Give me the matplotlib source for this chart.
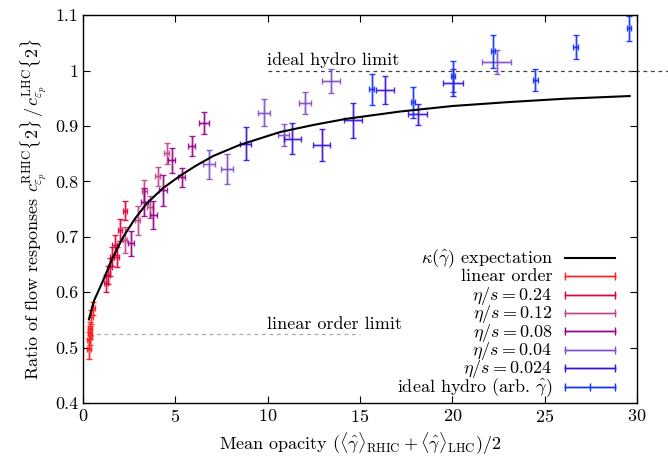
import matplotlib
matplotlib.use("Agg")
import matplotlib.pyplot as plt
from matplotlib.ticker import FormatStrFormatter

plt.rcParams['font.family'] = 'serif'
plt.rcParams['font.serif'] = ['cmr10', 'DejaVu Serif']
plt.rcParams['mathtext.fontset'] = 'cm'
plt.rcParams['axes.formatter.use_mathtext'] = True
plt.rcParams['font.size'] = 13

# kappa(gamma) expectation
kappa_x = [0.32, 0.6, 1.1, 1.6, 2.18, 2.8, 3.45, 4.3, 5.25, 6.1, 7.06, 8.5,
           10.67, 12.5, 14.28, 17.16, 20, 23, 26, 29.6]
kappa_y = [0.551, 0.585, 0.622, 0.662, 0.70, 0.732, 0.76, 0.787, 0.81, 0.828,
           0.846, 0.866, 0.889, 0.902, 0.913, 0.926, 0.936, 0.943, 0.949, 0.954]

# linear order
lin_x = [0.30, 0.33, 0.36, 0.38, 0.40, 0.45, 0.54]
lin_y = [0.513, 0.497, 0.535, 0.527, 0.519, 0.555, 0.571]
lin_xe = [0.1, 0.1, 0.1, 0.1, 0.1, 0.1, 0.1]
lin_ye = [0.015, 0.018, 0.012, 0.012, 0.014, 0.012, 0.012]

# eta/s = 0.24
e24_x = [1.26, 1.37, 1.46, 1.55, 1.71, 1.82, 2.0, 2.27]
e24_y = [0.616, 0.631, 0.646, 0.664, 0.685, 0.664, 0.712, 0.747]
e24_xe = [0.1, 0.1, 0.1, 0.1, 0.12, 0.12, 0.12, 0.12]
e24_ye = [0.015, 0.016, 0.016, 0.017, 0.018, 0.018, 0.02, 0.017]

# eta/s = 0.12
e12_x = [2.27, 2.96, 3.32, 3.63, 4.04, 4.53]
e12_y = [0.694, 0.73, 0.783, 0.754, 0.809, 0.851]
e12_xe = [0.12, 0.15, 0.15, 0.15, 0.15, 0.15]
e12_ye = [0.023, 0.026, 0.02, 0.02, 0.017, 0.019]

# eta/s = 0.08
e08_x = [2.6, 3.32, 3.81, 4.35, 4.8, 5.34, 5.88, 6.55]
e08_y = [0.688, 0.763, 0.739, 0.784, 0.838, 0.807, 0.864, 0.906]
e08_xe = [0.15, 0.18, 0.2, 0.22, 0.2, 0.2, 0.18, 0.25]
e08_ye = [0.023, 0.025, 0.025, 0.028, 0.023, 0.017, 0.018, 0.02]

# eta/s = 0.04
e04_x = [6.82, 7.78, 9.82, 10.88, 12.02, 13.43, 22.4]
e04_y = [0.831, 0.822, 0.924, 0.883, 0.942, 0.981, 1.015]
e04_xe = [0.3, 0.32, 0.33, 0.3, 0.32, 0.49, 0.78]
e04_ye = [0.026, 0.027, 0.024, 0.02, 0.02, 0.022, 0.022]

# eta/s = 0.024
e024_x = [8.81, 11.33, 12.92, 14.64, 16.35, 18.12, 20.03]
e024_y = [0.868, 0.877, 0.865, 0.91, 0.965, 0.921, 0.978]
e024_xe = [0.3, 0.47, 0.47, 0.49, 0.5, 0.5, 0.56]
e024_ye = [0.03, 0.028, 0.029, 0.032, 0.025, 0.019, 0.024]

# ideal hydro
id_x = [15.63, 17.88, 20.03, 22.2, 24.5, 26.67, 29.58]
id_y = [0.966, 0.943, 0.99, 1.035, 0.983, 1.042, 1.076]
id_xe = [0.12, 0.12, 0.12, 0.12, 0.12, 0.12, 0.12]
id_ye = [0.028, 0.028, 0.028, 0.03, 0.019, 0.022, 0.023]

series = [
    ('linear order', '#ff2020', lin_x, lin_y, lin_xe, lin_ye),
    (r'$\eta/s = 0.24$', '#e0003c', e24_x, e24_y, e24_xe, e24_ye),
    (r'$\eta/s = 0.12$', '#c04888', e12_x, e12_y, e12_xe, e12_ye),
    (r'$\eta/s = 0.08$', '#980090', e08_x, e08_y, e08_xe, e08_ye),
    (r'$\eta/s = 0.04$', '#8050c8', e04_x, e04_y, e04_xe, e04_ye),
    (r'$\eta/s = 0.024$', '#3a10d8', e024_x, e024_y, e024_xe, e024_ye),
    (r'ideal hydro (arb. $\hat{\gamma}$)', '#1030ff', id_x, id_y, id_xe, id_ye),
]

fig = plt.figure(figsize=(6.68, 4.59), dpi=100)
ax = fig.add_axes([0.1243, 0.122, 0.8293, 0.845])

# limits
ax.plot([10, 31.7], [1.0, 1.0], ls=(0, (3, 3)), color='#404040', lw=0.9, clip_on=False)
ax.text(9.95, 1.004, 'ideal hydro limit', ha='left', va='bottom')
ax.plot([0.3, 15], [0.525, 0.525], ls=(0, (3, 3)), color='#a8a8a8', lw=0.9)
ax.text(9.95, 0.529, 'linear order limit', ha='left', va='bottom')

for name, c, x, y, xe, ye in series:
    # light halo then the bar itself
    ax.errorbar(x, y, xerr=xe, yerr=ye, fmt='none', ecolor=c, elinewidth=2.2,
                capsize=0, alpha=0.22)
    ax.errorbar(x, y, xerr=xe, yerr=ye, fmt='none', ecolor=c, elinewidth=1.0,
                capsize=2.5, capthick=1.0, alpha=0.9)

ax.plot(kappa_x, kappa_y, color='black', lw=1.5)

# hand-made legend, gnuplot style (text right aligned, sample on the right)
tx, hx0, hx1 = 0.848, 0.870, 0.960
y0, dy = 0.374, 0.0474
ax.plot([hx0, hx1], [y0, y0], color='black', lw=1.5, transform=ax.transAxes)
ax.text(tx, y0 - 0.013, r'$\kappa(\hat{\gamma})$ expectation', ha='right', va='baseline',
        transform=ax.transAxes)
for i, (name, c, *_rest) in enumerate(series):
    yy = y0 - (i + 1) * dy
    ax.plot([hx0, hx1], [yy, yy], color=c, lw=1.0, marker='|', markersize=6,
            markevery=[0, 1], transform=ax.transAxes)
    ax.plot([hx0, hx1], [yy, yy], color=c, lw=2.2, alpha=0.22, transform=ax.transAxes)
    if i == len(series) - 1:
        ax.plot([(hx0 + hx1) / 2], [yy], color=c, marker='|', markersize=6,
                transform=ax.transAxes)
    ax.text(tx, yy - 0.013, name, ha='right', va='baseline', transform=ax.transAxes)

ax.set_xlim(0, 30)
ax.set_ylim(0.4, 1.1)
ax.set_xticks([0, 5, 10, 15, 20, 25, 30])
ax.set_yticks([0.4, 0.5, 0.6, 0.7, 0.8, 0.9, 1.0, 1.1])
ax.yaxis.set_major_formatter(FormatStrFormatter('%g'))
ax.tick_params(direction='in', top=True, right=True, length=5, width=0.8, labelsize=13)
for s in ax.spines.values():
    s.set_linewidth(1.0)

ax.set_xlabel(r'Mean opacity $(\langle\hat{\gamma}\rangle_{\rm RHIC}+\langle\hat{\gamma}\rangle_{\rm LHC})/2$')
ax.set_ylabel(r'Ratio of flow responses $c_{\varepsilon_p}^{\rm RHIC}\{2\}\,/\,c_{\varepsilon_p}^{\rm LHC}\{2\}$')

fig.savefig('out.png', dpi=100)
